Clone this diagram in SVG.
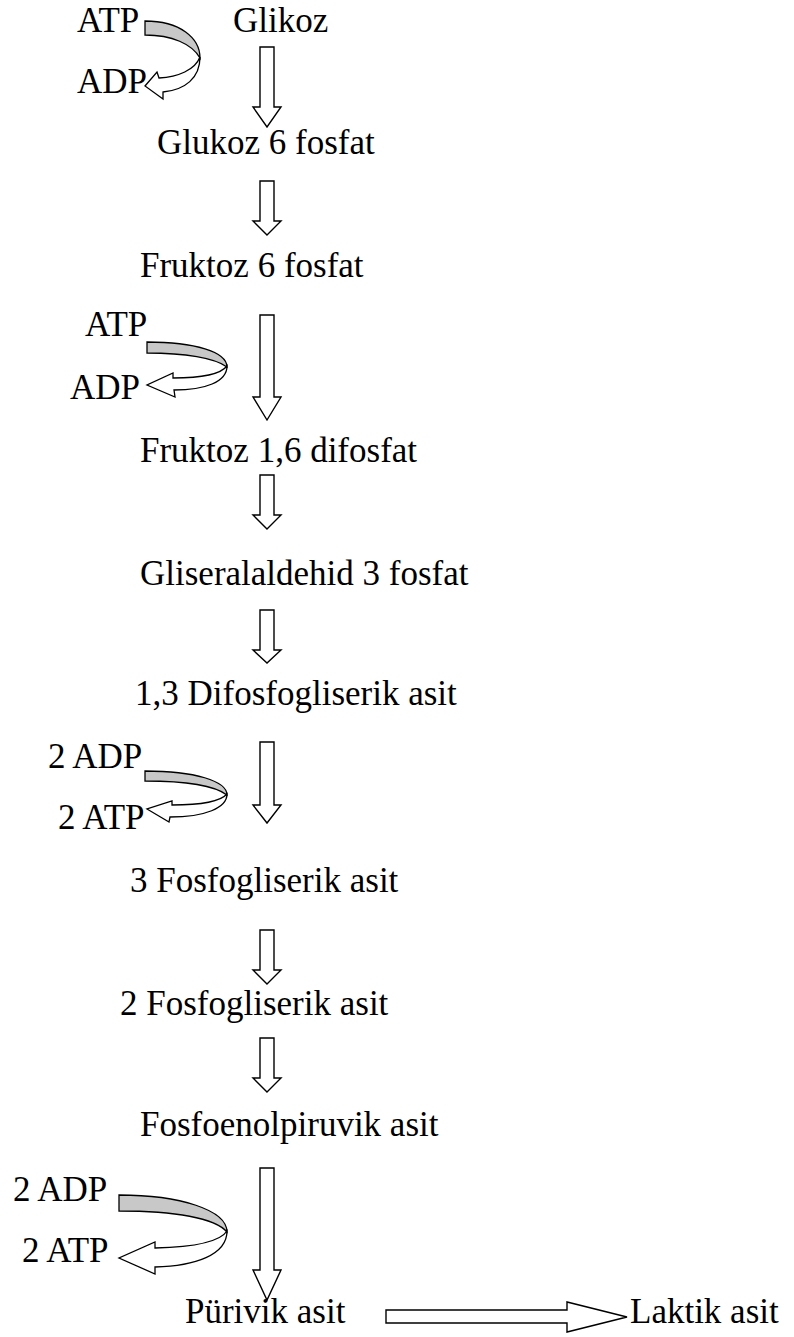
<svg xmlns="http://www.w3.org/2000/svg" width="794" height="1337" viewBox="0 0 794 1337">
<style>
text{font-family:"Liberation Serif","Times New Roman",serif;font-size:35px;fill:#000}
.blk{fill:#fff;stroke:#000;stroke-width:1.4;stroke-linejoin:miter}
.gray{fill:#c8c8c8;stroke:#000;stroke-width:1.3}
.wht{fill:#fff;stroke:#000;stroke-width:1.3;stroke-linejoin:miter}
</style>
<rect width="794" height="1337" fill="#fff"/>
<g id="connectors">
<path class="blk" d="M260,47 L274,47 L274,107 L281,107 L267,127 L253,107 L260,107 Z"/>
<path class="blk" d="M260,181 L274,181 L274,221 L281,221 L267,235 L253,221 L260,221 Z"/>
<path class="blk" d="M260,315 L274,315 L274,397 L281,397 L267,420 L253,397 L260,397 Z"/>
<path class="blk" d="M260,475 L274,475 L274,515 L281,515 L267,529 L253,515 L260,515 Z"/>
<path class="blk" d="M260,610 L274,610 L274,650 L281,650 L267,663 L253,650 L260,650 Z"/>
<path class="blk" d="M260,742 L274,742 L274,805 L281,805 L267,823 L253,805 L260,805 Z"/>
<path class="blk" d="M260,930 L274,930 L274,970 L281,970 L267,984 L253,970 L260,970 Z"/>
<path class="blk" d="M260,1038 L274,1038 L274,1078 L281,1078 L267,1092 L253,1078 L260,1078 Z"/>
<path class="blk" d="M260,1168 L274,1168 L274,1270 L281,1270 L267,1300 L253,1270 L260,1270 Z"/>
<path class="blk" d="M386,1310 L567,1310 L567,1302 L627,1317 L567,1332 L567,1323 L386,1323 Z"/>
<!-- curved arrow 1 -->
<path class="gray" d="M145,21 C180,21 200,38 200,58 C192,44 172,35 145,35 Z"/>
<path class="wht" d="M200,57 C200,78 185,90 163,92 L163,99 L145,86 L157,72 L159,78 C178,77 195,70 200,57 Z"/>
<!-- curved arrow 2 -->
<path class="gray" d="M147,342 C195,342 227,352 227,367 C215,358 185,353 147,353 Z"/>
<path class="wht" d="M227,366 C227,382 205,390 174,390 L175,397 L147,385 L173,373 L173,378 C200,378 220,375 227,366 Z"/>
<!-- curved arrow 3 -->
<path class="gray" d="M145,771 C195,771 227,781 227,795 C215,786 185,781 145,781 Z"/>
<path class="wht" d="M227,794 C227,808 205,817 170,817 L169,822 L147,809 L172,801 L172,805 C200,805 220,802 227,794 Z"/>
<!-- curved arrow 4 -->
<path class="gray" d="M119,1195 C180,1195 227,1210 227,1232 C215,1218 175,1211 119,1211 Z"/>
<path class="wht" d="M227,1231 C227,1255 195,1266 155,1267 L155,1274 L119,1258 L155,1242 L155,1248 C195,1247 220,1242 227,1231 Z"/>
</g>
<g id="n-glikoz"><text x="233" y="32">Glikoz</text></g>
<g id="n-atp1"><text x="77" y="32">ATP</text></g>
<g id="n-adp1"><text x="77" y="93">ADP</text></g>
<g id="n-g6p"><text x="157" y="154">Glukoz 6 fosfat</text></g>
<g id="n-f6p"><text x="140" y="277">Fruktoz 6 fosfat</text></g>
<g id="n-atp2"><text x="85" y="336">ATP</text></g>
<g id="n-adp2"><text x="70" y="399">ADP</text></g>
<g id="n-f16"><text x="140" y="462">Fruktoz 1,6 difosfat</text></g>
<g id="n-g3p"><text x="140" y="585">Gliseralaldehid 3 fosfat</text></g>
<g id="n-13"><text x="135" y="705">1,3 Difosfogliserik asit</text></g>
<g id="n-adp3"><text x="48" y="768">2 ADP</text></g>
<g id="n-atp3"><text x="58" y="829">2 ATP</text></g>
<g id="n-3pg"><text x="130" y="892">3 Fosfogliserik asit</text></g>
<g id="n-2pg"><text x="120" y="1015">2 Fosfogliserik asit</text></g>
<g id="n-pep"><text x="140" y="1136">Fosfoenolpiruvik asit</text></g>
<g id="n-adp4"><text x="13" y="1201">2 ADP</text></g>
<g id="n-atp4"><text x="22" y="1262">2 ATP</text></g>
<g id="n-pir"><text x="185" y="1323">Pürivik asit</text></g>
<g id="n-lak"><text x="630" y="1323">Laktik asit</text></g>
</svg>
